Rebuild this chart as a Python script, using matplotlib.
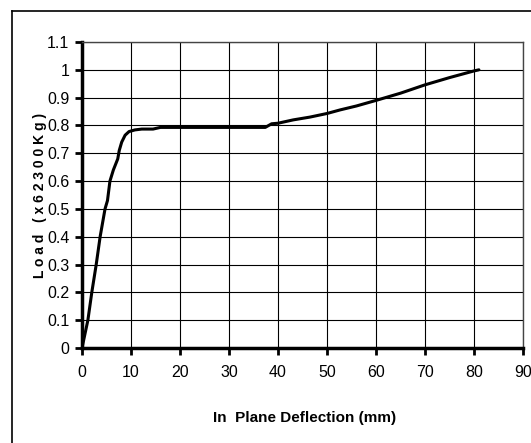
import matplotlib.pyplot as plt
from matplotlib.lines import Line2D

# Load-deflection curve
deflection = [0, 1.2, 2.0, 2.9, 3.7, 4.7, 5.2, 5.7, 6.4, 7.3, 7.6, 8.1, 8.8, 9.6,
              10.8, 12.2, 14.5, 16, 25, 37.4, 38.7, 40, 43.1, 46.5, 50, 52.7, 56,
              60, 65, 70, 75, 80, 81]
load = [0, 0.1, 0.2, 0.3, 0.4, 0.5, 0.53, 0.6, 0.64, 0.68, 0.71, 0.74, 0.765, 0.778,
        0.784, 0.787, 0.787, 0.793, 0.793, 0.793, 0.806, 0.808, 0.82, 0.83, 0.843,
        0.856, 0.87, 0.89, 0.916, 0.946, 0.972, 0.996, 1.0]

x_ticks = list(range(0, 100, 10))
y_ticks = [0, 0.1, 0.2, 0.3, 0.4, 0.5, 0.6, 0.7, 0.8, 0.9, 1, 1.1]
y_tick_labels = ['0', '0.1', '0.2', '0.3', '0.4', '0.5', '0.6', '0.7', '0.8', '0.9', '1', '1.1']

plt.rcParams['font.family'] = ['Liberation Sans', 'DejaVu Sans']

fig = plt.figure(figsize=(5.31, 4.43), dpi=100)
ax = fig.add_axes([82 / 531, 1 - 348 / 443, 441 / 531, 306 / 443])

# outer chart frame (left and top edges visible)
fig.add_artist(Line2D([11.5 / 531, 11.5 / 531], [0, 1 - 10.5 / 443], color='black', lw=1.2))
fig.add_artist(Line2D([11.5 / 531, 1], [1 - 10.5 / 443, 1 - 10.5 / 443], color='black', lw=1.2))

ax.plot(deflection, load, color='black', linewidth=2.2, solid_capstyle='round', zorder=3)

ax.set_xlim(0, 90)
ax.set_ylim(0, 1.1)
ax.set_xticks(x_ticks)
ax.set_yticks(y_ticks)
ax.set_yticklabels(y_tick_labels)

ax.grid(True, color='black', linewidth=0.8)
ax.set_axisbelow(True)

for side in ['top', 'right']:
    ax.spines[side].set_linewidth(1.0)
    ax.spines[side].set_color('#444444')
for side in ['left', 'bottom']:
    ax.spines[side].set_linewidth(2.5)

ax.tick_params(axis='both', direction='out', length=5, width=2, labelsize=11.5, pad=4)
ax.tick_params(axis='x', pad=7)

ax.set_xlabel('In  Plane Deflection (mm)', fontsize=11, fontweight='bold')
ax.set_ylabel('L o a d   ( x 6 2 3 0 0 K g )', fontsize=10, fontweight='bold')
ax.xaxis.set_label_coords(0.505, -0.205)
ax.yaxis.set_label_coords(-0.079, 0.5)

fig.savefig('out.png', dpi=100)
